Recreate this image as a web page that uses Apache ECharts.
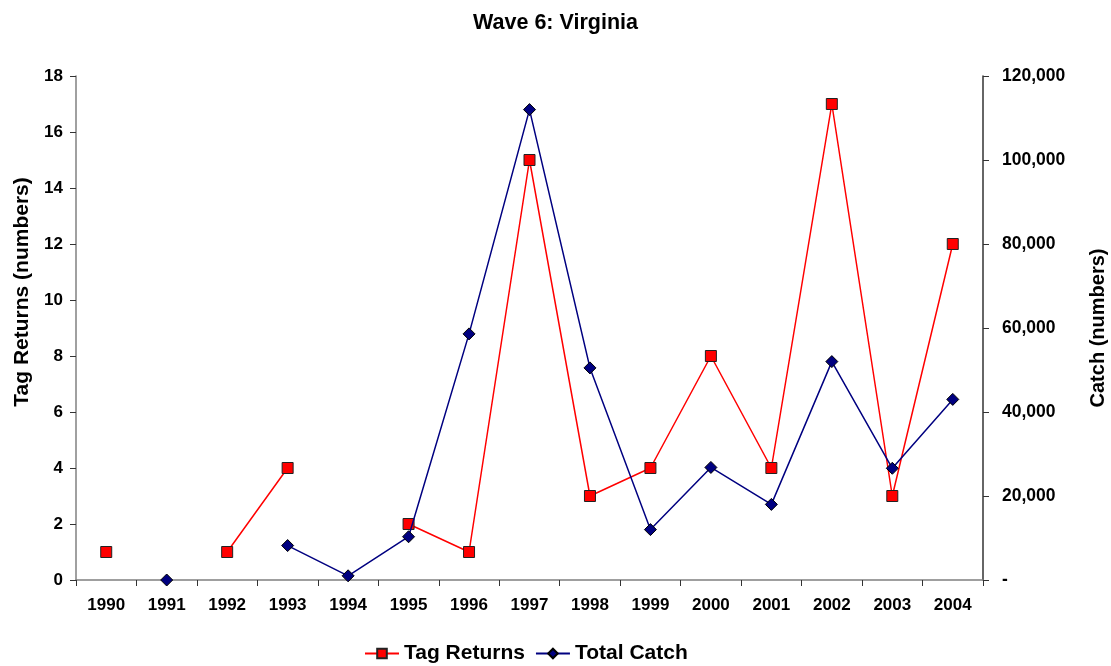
<!DOCTYPE html>
<html>
<head>
<meta charset="utf-8">
<script src="https://cdn.jsdelivr.net/npm/echarts@6/dist/echarts.min.js"></script>
<style>html,body{margin:0;padding:0;background:#fff}#c{width:1111px;height:666px}</style>
</head>
<body>
<div id="c"></div>
<script>
var years = ['1990','1991','1992','1993','1994','1995','1996','1997','1998','1999','2000','2001','2002','2003','2004'];
var tagReturns = [1, null, 1, 4, null, 2, 1, 15, 3, 4, 8, 4, 17, 3, 12];
var totalCatch = [null, 0, null, 8200, 1000, 10300, 58600, 112000, 50500, 12000, 26800, 18000, 52000, 26600, 43000];
var leftTicks = {min: 0, max: 18, interval: 2};
var rightTicks = {min: 0, max: 120000, interval: 20000};

var FONT = '"Liberation Sans", Arial, sans-serif';
var chart = echarts.init(document.getElementById('c'), null, {renderer: 'canvas'});
chart.setOption({
  animation: false,
  backgroundColor: '#fff',
  title: {
    text: 'Wave 6: Virginia', left: 'center', top: 7,
    textStyle: {fontFamily: FONT, fontWeight: 'bold', fontSize: 21.5, color: '#000'}
  },
  legend: {
    top: 638, left: 359, itemWidth: 34, itemHeight: 12, itemGap: 10,
    textStyle: {fontFamily: FONT, fontWeight: 'bold', fontSize: 21, color: '#000'},
    data: ['Tag Returns', 'Total Catch']
  },
  grid: {left: 76, right: 128, top: 76, bottom: 86, containLabel: false, outerBoundsMode: 'none'},
  xAxis: {
    type: 'category', data: years, boundaryGap: true,
    axisLine: {lineStyle: {color: '#808080', width: 1.5}},
    axisTick: {show: true, length: 6, interval: 0, lineStyle: {color: '#333'}},
    axisLabel: {fontFamily: FONT, fontWeight: 'bold', fontSize: 17, color: '#000', margin: 17, interval: 0},
    splitLine: {show: false}
  },
  yAxis: [{
    type: 'value', position: 'left', min: leftTicks.min, max: leftTicks.max, interval: leftTicks.interval,
    name: 'Tag Returns (numbers)', nameLocation: 'middle', nameGap: 43, nameRotate: 90,
    nameTextStyle: {fontFamily: FONT, fontWeight: 'bold', fontSize: 21, color: '#000', padding: [0, 0, 0, 72]},
    axisLine: {show: true, lineStyle: {color: '#808080', width: 1.5}},
    axisTick: {show: true, length: 6, lineStyle: {color: '#333'}},
    axisLabel: {fontFamily: FONT, fontWeight: 'bold', fontSize: 17, color: '#000', margin: 13},
    splitLine: {show: false}
  }, {
    type: 'value', position: 'right', min: rightTicks.min, max: rightTicks.max, interval: rightTicks.interval,
    name: 'Catch (numbers)', nameLocation: 'middle', nameGap: 105, nameRotate: 90,
    nameTextStyle: {fontFamily: FONT, fontWeight: 'bold', fontSize: 20, color: '#000'},
    axisLine: {show: true, lineStyle: {color: '#333', width: 1.5}},
    axisTick: {show: true, length: 6, lineStyle: {color: '#333'}},
    axisLabel: {fontFamily: FONT, fontWeight: 'bold', fontSize: 17.5, color: '#000', margin: 19,
      formatter: function (v) { return v === 0 ? '-' : v.toLocaleString('en-US'); }},
    splitLine: {show: false}
  }],
  series: [{
    name: 'Tag Returns', type: 'line', yAxisIndex: 0, data: tagReturns, connectNulls: false,
    symbol: 'rect', symbolSize: 11, showAllSymbol: true,
    lineStyle: {color: '#FF0000', width: 1.5},
    itemStyle: {color: '#FF0000', borderColor: '#222', borderWidth: 1},
    z: 2
  }, {
    name: 'Total Catch', type: 'line', yAxisIndex: 1, data: totalCatch, connectNulls: false,
    symbol: 'diamond', symbolSize: [12, 12], showAllSymbol: true,
    lineStyle: {color: '#000080', width: 1.5},
    itemStyle: {color: '#000080', borderColor: '#000', borderWidth: 1},
    z: 3
  }]
});
</script>
</body>
</html>
